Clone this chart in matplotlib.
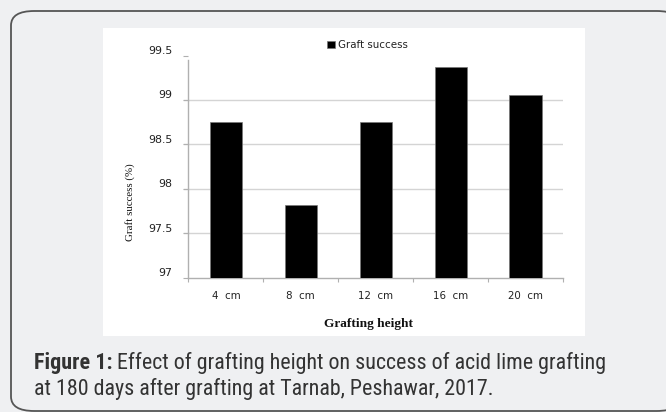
import matplotlib
matplotlib.use("Agg")
import matplotlib.pyplot as plt
import matplotlib.transforms as mtransforms
from matplotlib import font_manager
from matplotlib.patches import FancyBboxPatch, Rectangle
import numpy as np

categories = ["4  cm", "8  cm", "12  cm", "16  cm", "20  cm"]
graft_success = [98.75, 97.82, 98.75, 99.37, 99.06]
yticks = [97, 97.5, 98, 98.5, 99, 99.5]
ytick_labels = ["97", "97.5", "98", "98.5", "99", "99.5"]
series_name = "Graft success"
xlabel = "Grafting height"
ylabel = "Graft success (%)"
caption_bold = "Figure 1:"
caption_line1 = " Effect of grafting height on success of acid lime grafting"
caption_line2 = "at 180 days after grafting at Tarnab, Peshawar, 2017."

W, H = 666, 412
DPI = 100
fig = plt.figure(figsize=(W / DPI, H / DPI), dpi=DPI)
fig.patch.set_facecolor("#eff0f2")

def fx(px):
    return px / W

def fy(py):
    return 1 - py / H

cap_family = "Liberation Sans"
for cand in ["Liberation Sans Narrow", "DejaVu Sans Condensed", "Roboto Condensed", "Open Sans Condensed"]:
    try:
        font_manager.findfont(font_manager.FontProperties(family=cand), fallback_to_default=False)
        cap_family = cand
        break
    except Exception:
        pass

frame = FancyBboxPatch((fx(11), fy(411)), fx(680) - fx(11), fy(11) - fy(411),
                       boxstyle="round,pad=0,rounding_size=0.035",
                       transform=fig.transFigure, facecolor="#eff0f2",
                       edgecolor="#555555", linewidth=1.3, zorder=-3)
fig.patches.append(frame)

panel = Rectangle((fx(103), fy(336)), fx(585) - fx(103), fy(28) - fy(336),
                  transform=fig.transFigure, facecolor="white", edgecolor="none", zorder=-2)
fig.patches.append(panel)

ax_left, ax_right = 188.5, 563
ax_bottom, ax_top = 277.7, 55.6
ax = fig.add_axes([fx(ax_left), fy(ax_bottom), fx(ax_right) - fx(ax_left), fy(ax_top) - fy(ax_bottom)])
ax.set_facecolor("none")
ax.set_zorder(1)

x = np.arange(len(categories))
bars = ax.bar(x, [v - 97 for v in graft_success], bottom=97, width=0.43,
              color="black", edgecolor="#777777", linewidth=0.5, label=series_name, zorder=3)
ax.set_xlim(-0.5, len(categories) - 0.5)
ax.set_ylim(97, 99.5)

for yv in yticks[1:-1]:
    ax.axhline(yv, color="#d4d4d4", linewidth=1, zorder=1)
    ax.plot([-0.5 - 5 / 75, -0.5], [yv, yv], color="#d4d4d4", lw=1, clip_on=False, zorder=1)

for s in ["top", "right"]:
    ax.spines[s].set_visible(False)
for s in ["left", "bottom"]:
    ax.spines[s].set_color("#b0b0b0")
    ax.spines[s].set_linewidth(1)
ax.spines["left"].set_bounds(97, 99.45)

ax.set_yticks(yticks)
ax.set_yticklabels(ytick_labels)
ax.tick_params(axis="y", length=3.6, width=0.8, color="#b0b0b0", pad=8, labelsize=7.9, labelcolor="#222222")

ax.set_xticks(np.arange(-0.5, len(categories), 1.0))
ax.set_xticklabels([])
ax.tick_params(axis="x", which="major", length=3, width=0.8, color="#b0b0b0")
ax.set_xticks(x, minor=True)
ax.set_xticklabels(categories, minor=True)
ax.tick_params(axis="x", which="minor", length=0, pad=9.5, labelsize=7.4, labelcolor="#222222")

off = mtransforms.ScaledTranslation(0, 4 / 72, fig.dpi_scale_trans)
for lab in ax.get_yticklabels():
    lab.set_transform(lab.get_transform() + off)

leg = ax.legend(handles=[bars], labels=[series_name], loc="center left",
                bbox_to_anchor=(fx(327), fy(45)), bbox_transform=fig.transFigure,
                frameon=False, fontsize=7.4, handlelength=0.78, handleheight=0.78,
                handletextpad=0.3, borderpad=0, borderaxespad=0)
for t in leg.get_texts():
    t.set_color("#222222")

fig.text(fx(130), fy(201.7), ylabel, rotation=90, ha="center", va="center",
         family="Liberation Serif", fontsize=7.8, color="#111111")
fig.text(fx(368), fy(324), xlabel, ha="center", va="center",
         family="Liberation Serif", fontweight="bold", fontsize=9.6, color="#111111")

renderer = fig.canvas.get_renderer()
cap_size = 15
t_bold = fig.text(fx(34), fy(369.5), caption_bold, family=cap_family, fontweight="bold",
                  fontsize=cap_size, color="#333333", va="baseline", ha="left")
bb = t_bold.get_window_extent(renderer)
t1 = fig.text(bb.x1 / W, fy(369.5), caption_line1, family=cap_family,
              fontsize=cap_size, color="#333333", va="baseline", ha="left")
bb1 = t1.get_window_extent(renderer)
scale = (607 - 34) / (bb1.x1 - bb.x0)
cap_size *= scale
t_bold.set_fontsize(cap_size)
bb = t_bold.get_window_extent(renderer)
t1.set_x(bb.x1 / W)
t1.set_fontsize(cap_size)
fig.text(fx(34), fy(395), caption_line2, family=cap_family,
         fontsize=cap_size, color="#333333", va="baseline", ha="left")

fig.savefig("out.png", dpi=DPI, facecolor=fig.get_facecolor())
